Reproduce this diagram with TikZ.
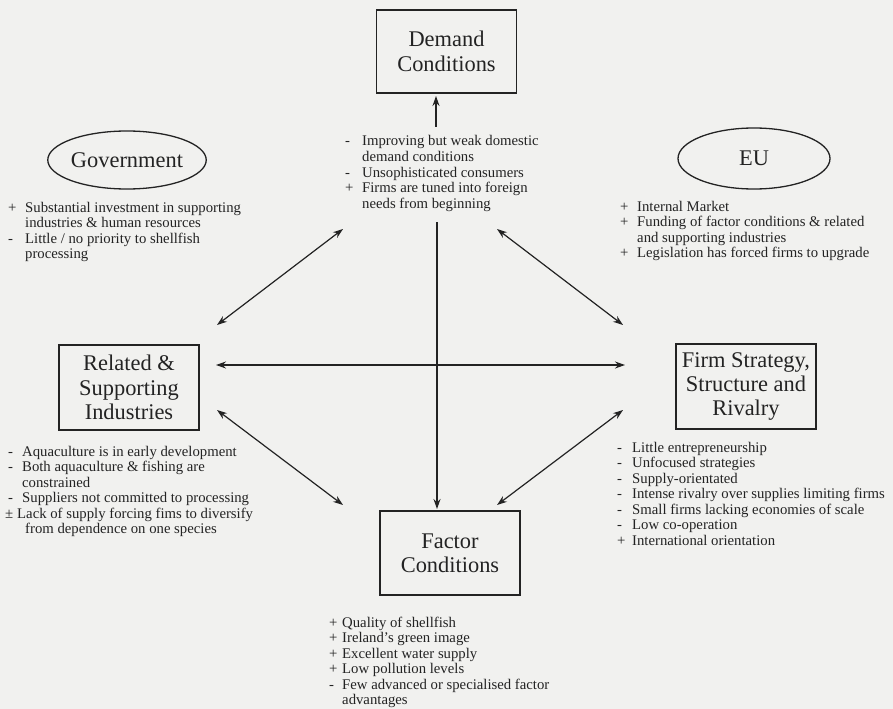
\documentclass[tikz,border=0pt]{standalone}
\usepackage{fontspec}
\setmainfont{Liberation Serif}
\usetikzlibrary{arrows.meta,shapes.geometric}
\definecolor{bg}{RGB}{241,241,239}
\definecolor{ink}{RGB}{35,35,35}
\newcommand\mk[2][17bp]{\makebox[#1][l]{#2}}
\newcommand\ind[1][17bp]{\hspace*{#1}}
\begin{document}
\begin{tikzpicture}[x=1bp,y=-1bp,
  box/.style={draw=ink,line width=1.5bp,minimum width=140bp,minimum height=84bp,inner sep=0,align=center,font=\fontsize{22.5}{24.5}\selectfont,text=ink},
  oval/.style={ellipse,draw=ink,line width=1.3bp,inner sep=0,font=\fontsize{22.5}{24.5}\selectfont,text=ink},
  lst/.style={anchor=base west,inner sep=0,font=\fontsize{14.8}{15.6}\selectfont,text=ink},
  link/.style={draw=ink,line width=1.2bp,{Stealth[length=10bp,width=7bp]}-{Stealth[length=10bp,width=7bp]}},
  onearrow/.style={draw=ink,line width=1.2bp,-{Stealth[length=10bp,width=7bp]}}
]
\fill[bg] (0,0) rectangle (893,709);
\useasboundingbox (0,0) rectangle (893,709);

% boxes
\node[box,minimum height=83bp] (demand) at (446.5,51.5) {Demand\\Conditions};
\node[box,minimum height=85bp] (related) at (129,387.5) {Related \&\\Supporting\\Industries};
\node[box,minimum height=85bp] (firm) at (746,386.5) {Firm Strategy,\\Structure and\\Rivalry};
\node[box,minimum height=84bp] (factor) at (450,553) {Factor\\Conditions};

% ellipses
\node[oval,minimum width=141bp,minimum height=58bp] (gov) at (127,160) {Government};
\node[oval,minimum width=152bp,minimum height=61bp] (eu) at (754,158.5) {EU};

% lists
\node[lst] (demandlist) at (345,146) {\begin{tabular}[t]{@{}l@{}}
\mk{-}Improving but weak domestic\\
\ind demand conditions\\
\mk{-}Unsophisticated consumers\\
\mk{+}Firms are tuned into foreign\\
\ind needs from beginning
\end{tabular}};

\node[lst] (govlist) at (8,212) {\begin{tabular}[t]{@{}l@{}}
\mk{+}Substantial investment in supporting\\
\ind industries \& human resources\\
\mk{-}Little / no priority to shellfish\\
\ind processing
\end{tabular}};

\node[lst] (eulist) at (620,211) {\begin{tabular}[t]{@{}l@{}}
\mk{+}Internal Market\\
\mk{+}Funding of factor conditions \& related\\
\ind and supporting industries\\
\mk{+}Legislation has forced firms to upgrade
\end{tabular}};

\node[lst] (relatedlist) at (8,456) {\begin{tabular}[t]{@{}l@{}}
\mk[14bp]{-}Aquaculture is in early development\\
\mk[14bp]{-}Both aquaculture \& fishing are\\
\ind[14bp]constrained\\
\mk[14bp]{-}Suppliers not committed to processing\\
\hspace*{-3bp}\mk[12bp]{±}Lack of supply forcing fims to diversify\\
\ind[17bp]from dependence on one species
\end{tabular}};

\node[lst] (firmlist) at (617,452) {\begin{tabular}[t]{@{}l@{}}
\mk[15bp]{-}Little entrepreneurship\\
\mk[15bp]{-}Unfocused strategies\\
\mk[15bp]{-}Supply-orientated\\
\mk[15bp]{-}Intense rivalry over supplies limiting firms\\
\mk[15bp]{-}Small firms lacking economies of scale\\
\mk[15bp]{-}Low co-operation\\
\mk[15bp]{+}International orientation
\end{tabular}};

\node[lst] (factorlist) at (329,627) {\begin{tabular}[t]{@{}l@{}}
\mk[13bp]{+}Quality of shellfish\\
\mk[13bp]{+}Ireland’s green image\\
\mk[13bp]{+}Excellent water supply\\
\mk[13bp]{+}Low pollution levels\\
\mk[13bp]{-}Few advanced or specialised factor\\
\ind[13bp]advantages
\end{tabular}};

% connector end points
\coordinate (tl1) at (217,325);
\coordinate (tl2) at (343,229);
\coordinate (tr1) at (497,229);
\coordinate (tr2) at (623,325);
\coordinate (hl) at (216,365);
\coordinate (hr) at (625,365);
\coordinate (bl1) at (217,410);
\coordinate (bl2) at (343,505);
\coordinate (br1) at (623,410);
\coordinate (br2) at (497,505);
\coordinate (vtop) at (437,222);
\coordinate (vbot) at (437,509);
\coordinate (dstart) at (436,127);
\coordinate (dtip) at (436,96);

\draw[link] (tl1) -- (tl2);
\draw[link] (tr1) -- (tr2);
\draw[link] (hl) -- (hr);
\draw[link] (bl1) -- (bl2);
\draw[link] (br1) -- (br2);
\draw[onearrow] (vtop) -- (vbot);
\draw[onearrow] (dstart) -- (dtip);
\end{tikzpicture}
\end{document}
